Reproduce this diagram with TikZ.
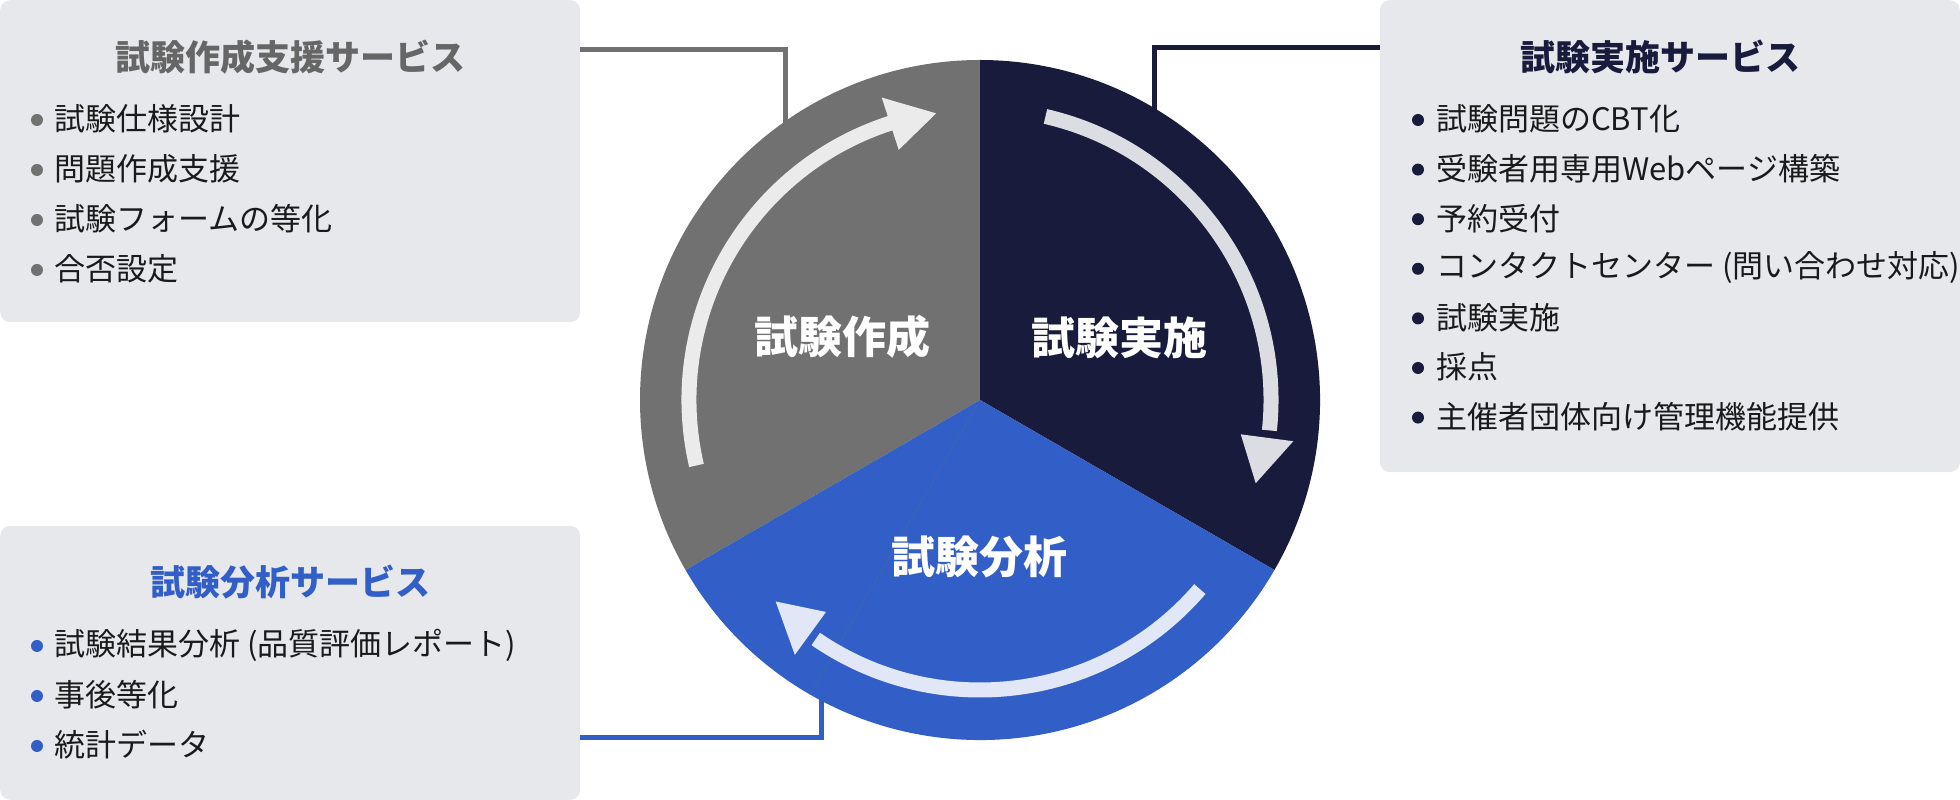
\documentclass[tikz,border=0pt]{standalone}
\usepackage{fontspec}
\setmainfont{Noto Sans CJK JP}
\usetikzlibrary{calc}
\definecolor{cgray}{HTML}{717171}
\definecolor{cnavy}{HTML}{181B3B}
\definecolor{cblue}{HTML}{315EC7}
\definecolor{cbox}{HTML}{E7E8EC}
\definecolor{cgtitle}{HTML}{666666}
\definecolor{ctext}{HTML}{1A1A1A}
\definecolor{agray}{HTML}{EBEBEB}
\definecolor{anavy}{HTML}{DCDDE3}
\definecolor{ablue}{HTML}{E1E7F7}
\begin{document}
\begin{tikzpicture}[x=1pt,y=1pt,
  panel/.style={fill=cbox, draw=none, rounded corners=10pt, inner sep=0pt},
  ptitle/.style={font=\fontsize{35}{40}\selectfont\bfseries, inner sep=0pt},
  item/.style={font=\fontsize{31}{36}\selectfont, text=ctext, inner sep=0pt, anchor=west},
  seclabel/.style={font=\fontsize{44}{50}\selectfont\bfseries, text=white, inner sep=0pt},
  link/.style={line width=5pt},
  shaft/.style={line width=15pt},
]
\useasboundingbox (0,0) rectangle (1960,800);

% panels
\node[panel, minimum width=580pt, minimum height=322pt, anchor=north west] (boxA) at (0,800) {};
\node[panel, minimum width=580pt, minimum height=472pt, anchor=north east] (boxB) at (1960,800) {};
\node[panel, minimum width=580pt, minimum height=274pt, anchor=south west] (boxC) at (0,0) {};

% connectors
\coordinate (c) at (980,400);
\coordinate (a1) at ($(boxA.north east)+(0,-50)$);
\coordinate (a2) at (785,640);
\coordinate (b1) at ($(boxB.north west)+(0,-48)$);
\coordinate (b2) at (1154,640);
\coordinate (c1) at ($(boxC.south east)+(0,62)$);
\coordinate (c2) at (821,150);
\draw[link, cgray] (a1) -| (a2);
\draw[link, cnavy] (b1) -| (b2);
\draw[link, cblue] (c1) -| (c2);

% circle sectors
\fill[cgray] (c) -- ($(c)+(90:340)$) arc[start angle=90, end angle=210, radius=340pt] -- cycle;
\fill[cnavy] (c) -- ($(c)+(-30:340)$) arc[start angle=-30, end angle=90, radius=340pt] -- cycle;
\fill[cblue] (c) -- ($(c)+(210:340)$) arc[start angle=210, end angle=330, radius=340pt] -- cycle;
\draw[line width=0.7pt, cblue!70!cgray] (c) -- ($(c)+(240:340)$);

% arrows
\draw[shaft, agray] ($(c)+(193:291)$) arc[start angle=193, end angle=106.5, radius=291pt];
\fill[agray] ($(c)+(108:263)$) -- ($(c)+(98.7:290)$) -- ($(c)+(108:318)$) -- cycle;
\draw[shaft, anavy] ($(c)+(77:291)$) arc[start angle=77, end angle=-6, radius=291pt];
\fill[anavy] ($(c)+(-7.5:263)$) -- ($(c)+(-16.8:288)$) -- ($(c)+(-7.5:316)$) -- cycle;
\draw[shaft, ablue] ($(c)+(-40.7:290)$) arc[start angle=-40.7, end angle=-124.5, radius=290pt];
\fill[ablue] ($(c)+(-126:262)$) -- ($(c)+(-135.4:287)$) -- ($(c)+(-126:315)$) -- cycle;

% sector labels
\node[seclabel] (lA) at (842,463) {試験作成};
\node[seclabel] (lB) at (1119,462) {試験実施};
\node[seclabel] (lC) at (979,243) {試験分析};

% titles
\node[ptitle, text=cgtitle] (tA) at (290,743) {試験作成支援サービス};
\node[ptitle, text=cnavy] (tB) at (1660,743) {試験実施サービス};
\node[ptitle, text=cblue] (tC) at (290,218) {試験分析サービス};

% items A
\foreach \t [count=\i] in {試験仕様設計,問題作成支援,試験フォームの等化,合否設定}{
  \fill[cgray] (37,{681-50*(\i-1)-1}) circle[radius=6pt];
  \node[item] (iA\i) at (54,{681-50*(\i-1)}) {\t};
}
% items B
\foreach \t [count=\i] in {試験問題のCBT化,受験者用専用Webページ構築,予約受付,コンタクトセンター (問い合わせ対応),試験実施,採点,主催者団体向け管理機能提供}{
  \fill[cnavy] (1418,{681-49.6*(\i-1)-1}) circle[radius=6pt];
  \node[item] (iB\i) at (1436,{681-49.6*(\i-1)}) {\t};
}
% items C
\foreach \t [count=\i] in {試験結果分析 (品質評価レポート),事後等化,統計データ}{
  \fill[cblue] (37,{155-50*(\i-1)-1}) circle[radius=6pt];
  \node[item] (iC\i) at (54,{155-50*(\i-1)}) {\t};
}
\end{tikzpicture}
\end{document}
